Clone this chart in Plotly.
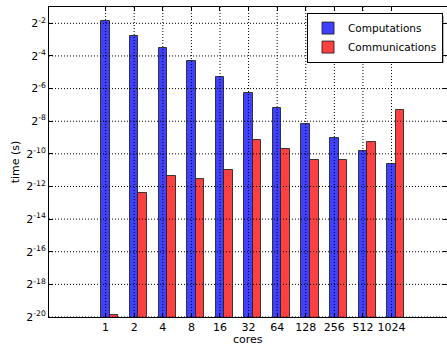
import math
import plotly.graph_objects as go

# Number of cores used in each run
cores = ["1", "2", "4", "8", "16", "32", "64", "128", "256", "512", "1024"]

# Measured wall-clock time in seconds
computations = [0.2813, 0.1487, 0.0866, 0.0515, 0.0261, 0.01305, 0.00671,
                0.003496, 0.001953, 0.001091, 0.00064]
communications = [1.022e-6, 0.0001863, 0.0003778, 0.0003382, 0.000495, 0.001724,
                  0.001186, 0.000745, 0.000766, 0.001598, 0.006346]

# Power-of-two tick positions on the time axis
y_exponents = [-2, -4, -6, -8, -10, -12, -14, -16, -18, -20]
y_tickvals = [2.0 ** e for e in y_exponents]
y_ticktext = [f"2<sup>{e}</sup>" for e in y_exponents]

FONT = "DejaVu Sans"
BLUE = "#4040ff"
RED = "#ff4040"
BAR_W = 0.3

fig = go.Figure()
fig.add_trace(go.Bar(
    x=cores, y=computations, name="Computations",
    width=BAR_W, offset=-BAR_W / 2,
    marker=dict(color=BLUE, line=dict(color="rgba(30,30,30,0.85)", width=1)),
))
fig.add_trace(go.Bar(
    x=cores, y=communications, name="Communications",
    width=BAR_W, offset=BAR_W / 2,
    marker=dict(color=RED, line=dict(color="rgba(30,30,30,0.85)", width=1)),
))

# Dotted grid drawn on top of the bars
grid = dict(color="black", width=1, dash="1px,2px")
for v in y_tickvals:
    fig.add_shape(type="line", xref="paper", yref="y", x0=0, x1=1,
                  y0=v, y1=v, line=grid, layer="above")
for i in range(len(cores)):
    fig.add_shape(type="line", xref="x", yref="paper", x0=i, x1=i,
                  y0=0, y1=1, line=grid, layer="above")

# Legend drop shadow
fig.add_shape(type="rect", xref="paper", yref="paper",
              x0=0.651, x1=0.992, y0=0.8195, y1=0.971,
              fillcolor="rgba(0,0,0,0.35)", line=dict(width=0), layer="above")

# x-axis title placed below the tick labels
fig.add_annotation(text="cores", xref="paper", yref="paper", x=0.5, y=-0.074,
                   xanchor="center", yanchor="middle", showarrow=False,
                   font=dict(family=FONT, size=11))

fig.update_layout(
    width=447, height=345,
    margin=dict(l=49, r=0, t=7, b=28, autoexpand=False),
    paper_bgcolor="white", plot_bgcolor="white",
    font=dict(family=FONT, size=11, color="black"),
    showlegend=True,
    legend=dict(x=0.99, y=0.982, xanchor="right", yanchor="top",
                bgcolor="white", bordercolor="black", borderwidth=1,
                font=dict(family=FONT, size=10.5), tracegroupgap=0,
                itemwidth=30),
    bargap=0,
)
fig.update_xaxes(
    type="category", range=[-1.98, 11.94], automargin=False,
    showline=True, linecolor="black", linewidth=1, mirror="ticks",
    ticks="inside", ticklen=4, tickcolor="black",
    showgrid=False, zeroline=False,
    tickfont=dict(family=FONT, size=11),
)
fig.update_yaxes(
    type="log", automargin=False,
    range=[math.log10(2.0 ** -20), math.log10(2.0 ** -1)],
    tickvals=y_tickvals, ticktext=y_ticktext,
    showline=True, linecolor="black", linewidth=1, mirror="ticks",
    ticks="inside", ticklen=4, tickcolor="black",
    showgrid=False, zeroline=False,
    tickfont=dict(family=FONT, size=11),
    title=dict(text="time (s)", font=dict(family=FONT, size=11), standoff=4),
)

fig.write_html("out.html")
